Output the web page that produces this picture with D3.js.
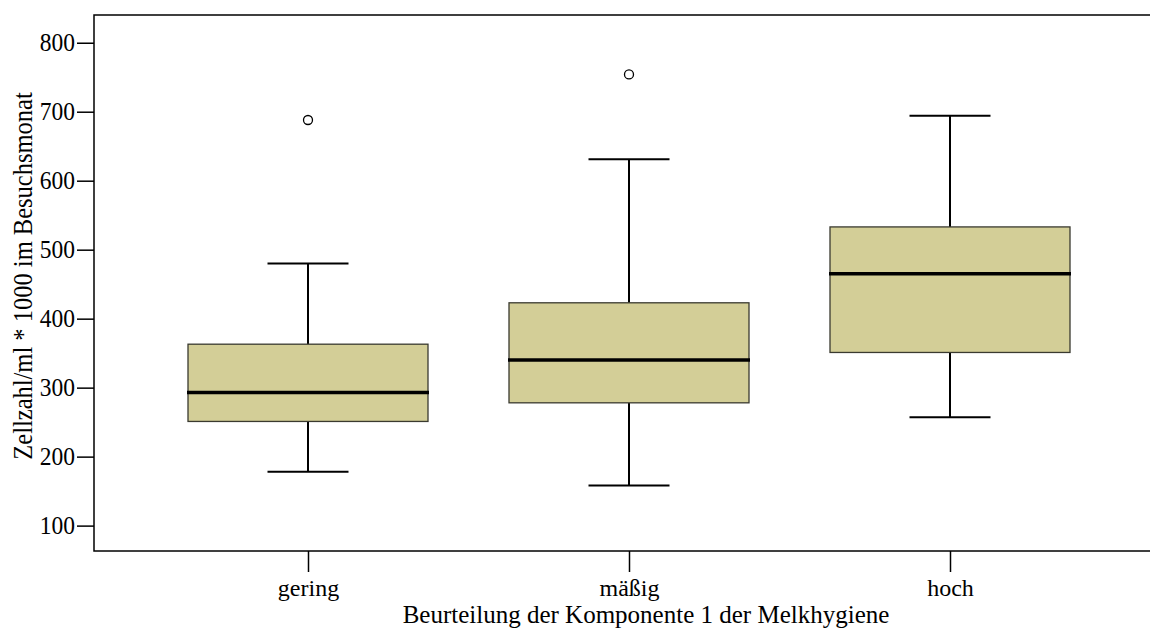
<!DOCTYPE html>
<html><head><meta charset="utf-8">
<script src="https://cdn.jsdelivr.net/npm/d3@7"></script>
<style>body{margin:0;background:#fff}svg{display:block}</style>
</head><body>
<svg id="c" width="1150" height="630"></svg>
<script>
const categories = ["gering", "mäßig", "hoch"];
const whiskerLow  = [178, 158, 257];
const q1          = [251, 278, 351];
const median      = [293, 340, 465];
const q3          = [363, 423, 533];
const whiskerHigh = [480, 631, 694];
const outliers    = [[688], [754], []];
const yTicks = [100, 200, 300, 400, 500, 600, 700, 800];
const xTitle = "Beurteilung der Komponente 1 der Melkhygiene";
const yTitle = "Zellzahl/ml * 1000 im Besuchsmonat";

const svg = d3.select("#c");
const L = 94, T = 15, R = 1164, B = 551;
const font = "'Liberation Serif', 'Times New Roman', serif";
const SY = 1.1;  // glyphs in the reference are slightly taller than Times proportions

const x = d3.scalePoint().domain(categories).range([308, 950]);
const y = d3.scaleLinear().domain([63.2, 840.2]).range([B, T]);
const boxW = 240, capW = 81;

// frame
svg.append("rect").attr("x", L).attr("y", T).attr("width", R - L).attr("height", B - T)
  .attr("fill", "none").attr("stroke", "#000").attr("stroke-width", 1.5);

// y axis
const ya = svg.append("g").attr("transform", `translate(${L},0)`)
  .call(d3.axisLeft(y).tickValues(yTicks).tickSize(17).tickPadding(2).tickFormat(d3.format("d")));
ya.select(".domain").remove();
ya.selectAll("line").attr("stroke", "#000").attr("stroke-width", 1.5);
ya.selectAll("text").attr("font-family", font).attr("font-size", 23.5).attr("fill", "#000")
  .attr("dy", null).attr("y", 8 / SY).attr("transform", `scale(1,${SY})`);

// x axis
const xa = svg.append("g").attr("transform", `translate(0,${B})`)
  .call(d3.axisBottom(x).tickSize(21).tickPadding(6));
xa.select(".domain").remove();
xa.selectAll("line").attr("stroke", "#000").attr("stroke-width", 1.5);
xa.selectAll("text").attr("font-family", font).attr("font-size", 24).attr("fill", "#000")
  .attr("dy", null).attr("y", 44.5);

// titles
svg.append("text").attr("x", 646).attr("y", 623).attr("text-anchor", "middle")
  .attr("font-family", font).attr("font-size", 25).attr("fill", "#000").text(xTitle);
svg.append("text").attr("transform", `translate(32,276) rotate(-90) scale(1,${SY})`)
  .attr("text-anchor", "middle").attr("font-family", font).attr("font-size", 24.5).attr("fill", "#000").text(yTitle);

const g = svg.append("g");
categories.forEach((c, i) => {
  const cx = x(c);
  // whiskers
  g.append("line").attr("x1", cx).attr("x2", cx).attr("y1", y(whiskerHigh[i])).attr("y2", y(q3[i]))
    .attr("stroke", "#000").attr("stroke-width", 2);
  g.append("line").attr("x1", cx).attr("x2", cx).attr("y1", y(q1[i])).attr("y2", y(whiskerLow[i]))
    .attr("stroke", "#000").attr("stroke-width", 2);
  [whiskerHigh[i], whiskerLow[i]].forEach(v => {
    g.append("line").attr("x1", cx - capW / 2).attr("x2", cx + capW / 2).attr("y1", y(v)).attr("y2", y(v))
      .attr("stroke", "#000").attr("stroke-width", 2);
  });
  // box
  g.append("rect").attr("x", cx - boxW / 2).attr("y", y(q3[i])).attr("width", boxW)
    .attr("height", y(q1[i]) - y(q3[i])).attr("fill", "#d3ce97").attr("stroke", "#3a3a30").attr("stroke-width", 1.3);
  // median
  g.append("line").attr("x1", cx - boxW / 2 - 1).attr("x2", cx + boxW / 2 + 1).attr("y1", y(median[i])).attr("y2", y(median[i]))
    .attr("stroke", "#000").attr("stroke-width", 3.5);
  // outliers
  outliers[i].forEach(v => {
    g.append("circle").attr("cx", cx).attr("cy", y(v)).attr("r", 4.5)
      .attr("fill", "none").attr("stroke", "#000").attr("stroke-width", 1.3);
  });
});
</script>
</body></html>
